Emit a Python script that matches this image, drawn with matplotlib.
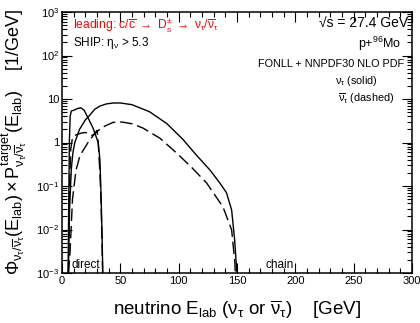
import numpy as np
import matplotlib
matplotlib.use("Agg")
from matplotlib import pyplot as plt
from matplotlib.ticker import FixedLocator, LogLocator, NullFormatter, MultipleLocator

plt.rcParams['font.family'] = ['Liberation Sans', 'DejaVu Sans']
plt.rcParams['mathtext.fontset'] = 'custom'
plt.rcParams['mathtext.rm'] = 'Liberation Sans'
plt.rcParams['mathtext.it'] = 'Liberation Sans'
plt.rcParams['mathtext.bf'] = 'Liberation Sans:bold'

# chain: tau -> nu_tau from D_s -> tau decay chain
chain_nu_E = [5.5, 6.5, 8, 9.4, 11, 15, 20, 24, 28, 32.6, 38, 44, 50, 60, 75, 90,
              104, 115, 127, 135, 141, 145.4, 148, 149.7, 150]
chain_nu_val = [1e-3, 0.03, 0.25, 0.6, 1.0, 2.0, 3.3, 4.3, 5.8, 6.9, 7.7, 8.1, 8.1, 7.4, 5.1, 2.7,
                1.15, 0.52, 0.23, 0.12, 0.07, 0.028, 0.0057, 0.0012, 1e-3]

chain_nubar_E = [5.5, 6.9, 9, 12, 15.4, 22.3, 28, 34, 43.7, 51.4, 60, 69.4, 84, 98.3,
                 111, 124, 138, 145.4, 148.2, 148.5]
chain_nubar_val = [1e-3, 0.003, 0.05, 0.23, 0.5, 1.0, 1.6, 2.2, 2.9, 2.95, 2.7, 2.15, 1.25, 0.57,
                   0.27, 0.117, 0.033, 0.0098, 0.0017, 1e-3]

# direct: D_s -> nu_tau tau
direct_nu_E = [5.2, 5.8, 6.3, 7, 8, 10, 13, 16, 19, 22.5, 26.6, 28, 31, 32.5, 33.5, 34.3, 35]
direct_nu_val = [1e-3, 0.05, 1.0, 4.0, 5.3, 5.5, 6.0, 6.3, 5.5, 3.6, 2.15, 1.7, 1.0, 0.4, 0.06, 0.008, 1e-3]

direct_nubar_E = [5.5, 6.5, 7.5, 9, 12, 15, 17, 20, 23, 26, 28, 30, 30.8, 31.5, 32.5, 33.5, 34.3, 34.8]
direct_nubar_val = [1e-3, 0.1, 0.7, 1.3, 1.5, 1.6, 1.65, 1.7, 1.6, 1.45, 1.6, 1.9, 1.3, 0.6,
                    0.2, 0.04, 0.005, 1e-3]

W, H = 420, 323
fig = plt.figure(figsize=(W / 100, H / 100), dpi=100)
ax = fig.add_axes([62 / W, 1 - 273 / H, 350 / W, 261 / H])

dash = (0, (9, 3.5))
ax.plot(chain_nu_E, chain_nu_val, color='black', lw=1.0)
ax.plot(chain_nubar_E, chain_nubar_val, color='black', lw=1.0, linestyle=dash)
ax.plot(direct_nu_E, direct_nu_val, color='black', lw=1.0)
ax.plot(direct_nubar_E, direct_nubar_val, color='black', lw=1.0, linestyle=dash)

ax.set_yscale('log')
ax.set_xlim(0, 300)
ax.set_ylim(1e-3, 1e3)

ax.xaxis.set_major_locator(MultipleLocator(50))
ax.xaxis.set_minor_locator(MultipleLocator(10))
ax.yaxis.set_major_locator(FixedLocator([1e-3, 1e-2, 1e-1, 1, 10, 100, 1000]))
ax.yaxis.set_minor_locator(LogLocator(base=10, subs=np.arange(2, 10)))
ax.yaxis.set_minor_formatter(NullFormatter())
ax.set_yticklabels([r'$10^{-3}$', r'$10^{-2}$', r'$10^{-1}$', '1', '10', r'$10^{2}$', r'$10^{3}$'])

ax.tick_params(which='both', direction='in', top=True, right=True, labelsize=8, width=0.8)
ax.tick_params(which='major', length=7, pad=2)
ax.tick_params(which='minor', length=3.5)
for s in ax.spines.values():
    s.set_linewidth(1.1)

ax.set_xlabel(r'neutrino $E_{\rm lab}$ ($\nu_\tau$ or $\overline{\nu}_\tau$)    [GeV]', fontsize=13.5, labelpad=9)
ax.set_ylabel(r'$\Phi_{\nu_\tau/\overline{\nu}_\tau}(E_{\rm lab})\times P^{\rm target}_{\nu_\tau/\overline{\nu}_\tau}(E_{\rm lab})$    [1/GeV]',
              fontsize=13, labelpad=5)


def ftext(x, y, s, **kw):
    fig.text(x / W, 1 - y / H, s, va='baseline', **kw)


ftext(73, 28, r'leading: c/$\overline{\rm c}$ $\rightarrow$ D$_{\rm s}^{\pm}$ $\rightarrow$ $\nu_\tau/\overline{\nu}_\tau$',
      color='red', fontsize=8.7)
ftext(73, 46, r'SHIP: $\eta_\nu$ > 5.3', fontsize=8.5)
ftext(408, 28, '\u221as = 27.4 GeV', ha='right', fontsize=10)
ftext(401, 48, r'p+$^{96}$Mo', ha='right', fontsize=9)
ftext(404, 67, 'FONLL + NNPDF30 NLO PDF', ha='right', fontsize=7.8)
ftext(378, 84, r'$\nu_\tau$ (solid)', ha='right', fontsize=7.8)
ftext(394, 102, r'$\overline{\nu}_\tau$ (dashed)', ha='right', fontsize=7.8)
ftext(72, 268, 'direct', fontsize=8.5)
ftext(265, 268, 'chain', fontsize=8.5)

fig.savefig('out.png', dpi=100)
